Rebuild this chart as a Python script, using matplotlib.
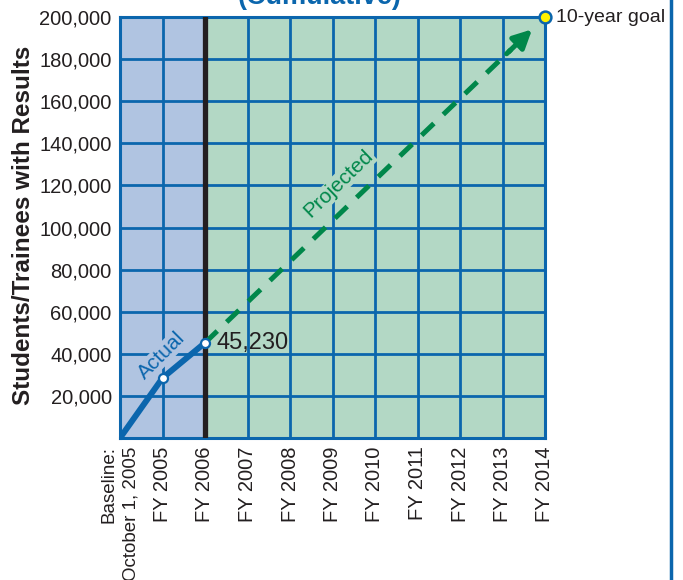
import matplotlib.pyplot as plt

plt.rcParams['font.family'] = ['Liberation Sans', 'DejaVu Sans']

# data
x_labels = ['Baseline:\nOctober 1, 2005', 'FY 2005', 'FY 2006', 'FY 2007', 'FY 2008',
            'FY 2009', 'FY 2010', 'FY 2011', 'FY 2012', 'FY 2013', 'FY 2014']
actual_x = [0, 1, 2]
actual_y = [0, 28500, 45230]
goal_x = 10
goal_y = 200000
y_ticks = [20000, 40000, 60000, 80000, 100000, 120000, 140000, 160000, 180000, 200000]

blue = '#0b66ad'
green = '#00874a'
blue_fill = '#b0c4e1'
green_fill = '#b3d8c5'
ink = '#231f20'

fig = plt.figure(figsize=(6.83, 5.8), dpi=100)
ax = fig.add_axes([120 / 683, 1 - 438 / 580, 425 / 683, 421 / 580])

ax.set_xlim(0, 10)
ax.set_ylim(0, 200000)

# shaded regions: actual vs projected
ax.axvspan(0, actual_x[-1], color=blue_fill, zorder=0)
ax.axvspan(actual_x[-1], goal_x, color=green_fill, zorder=0)

ax.set_xticks(range(len(x_labels)))
labels = ax.set_xticklabels(x_labels, rotation=90, fontsize=14.5, color=ink,
                            va='top', ha='center', multialignment='right')
labels[0].set_fontsize(13.5)
labels[0].set_linespacing(1.45)
ax.set_yticks(y_ticks)
ax.set_yticklabels([f'{v:,}' for v in y_ticks], fontsize=14.5, color=ink)
ax.tick_params(length=0, pad=6)
ax.grid(True, color=blue, lw=2, zorder=1)
ax.set_axisbelow(False)
for s in ax.spines.values():
    s.set_color(blue)
    s.set_linewidth(2.2)

ax.axvline(actual_x[-1], color=ink, lw=3.8, zorder=3)

# projected dashed line with arrow head
run = goal_x - actual_x[-1]
rise = goal_y - actual_y[-1]
tip_x = actual_x[-1] + run * 0.968
tip_y = actual_y[-1] + rise * 0.968
mid_x = actual_x[-1] + run * 0.9
mid_y = actual_y[-1] + rise * 0.9
ax.plot([actual_x[-1], mid_x], [actual_y[-1], mid_y], color=green, lw=3.6,
        dashes=(3.4, 2.6), zorder=4, dash_capstyle='butt')
ax.annotate('', xy=(tip_x, tip_y), xytext=(mid_x - 0.15, mid_y - 0.15 * rise / run),
            arrowprops=dict(arrowstyle='-|>,head_length=1.1,head_width=0.55', color=green, lw=3.6),
            zorder=4)

# actual line
ax.plot(actual_x, actual_y, color=blue, lw=4.3, zorder=5, solid_capstyle='butt')
ax.plot(actual_x[1:], actual_y[1:], 'o', ms=6.5, mfc='white', mec=blue, mew=1.6, zorder=6)

# goal marker
ax.plot([goal_x], [goal_y], 'o', ms=8.5, mfc='#fff200', mec=blue, mew=1.8, zorder=7, clip_on=False)

ax.text(goal_x + 0.25, goal_y, '10-year goal', fontsize=14, color=ink,
        va='center', ha='left', clip_on=False)
ax.text(actual_x[-1] + 0.27, actual_y[-1], f'{actual_y[-1]:,}', fontsize=17, color=ink,
        va='center', ha='left', zorder=8)
ax.text(0.97, 39000, 'Actual', fontsize=15, color=blue, rotation=45,
        ha='center', va='center', zorder=8,
        bbox=dict(facecolor=blue_fill, edgecolor='none', pad=0.5))
ax.text(5.15, 120700, 'Projected', fontsize=15, color=green, rotation=44,
        ha='center', va='center', zorder=8,
        bbox=dict(facecolor=green_fill, edgecolor='none', pad=0.5))

ax.set_ylabel('Students/Trainees with Results', fontsize=17.5, fontweight='bold', color=ink)
ax.yaxis.set_label_coords(-0.2, 0.505)

fig.text(320 / 683, 1 - 4 / 580, '(Cumulative)', fontsize=19.5, fontweight='bold', color=blue,
         ha='center', va='baseline')

# right edge rule
fig.add_artist(plt.Line2D([671 / 683, 671 / 683], [0, 1], color=blue, lw=2.5))

fig.savefig('out.png', dpi=100)
